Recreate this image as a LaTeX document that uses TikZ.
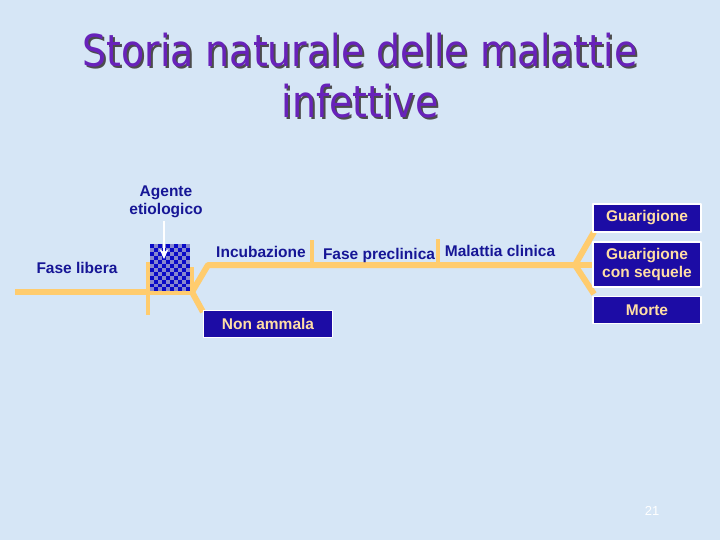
\documentclass[tikz,border=0pt]{standalone}
\usepackage{fontspec}
\setmainfont{Liberation Sans}
\newfontfamily\titlefont[FakeStretch=0.86]{DejaVu Sans}
\usetikzlibrary{positioning,arrows.meta}
\definecolor{bgblue}{RGB}{214,230,246}
\definecolor{lineor}{RGB}{255,204,110}
\definecolor{lblblue}{RGB}{22,22,150}
\definecolor{boxblue}{RGB}{28,12,165}
\definecolor{boxtext}{RGB}{255,222,165}
\definecolor{titlepurple}{RGB}{104,34,186}
\definecolor{checkdark}{RGB}{10,10,200}
\definecolor{checklight}{RGB}{135,135,205}
% title text with its dark shadow
\newcommand\shadowed[1]{\makebox[0pt][l]{\hspace{2pt}\raisebox{-2pt}{\color{black!70}#1}}{\color{titlepurple}#1}}
\begin{document}
\begin{tikzpicture}[x=1pt,y=-1pt, line join=round,
    track/.style={draw=lineor, line width=6pt},
    tick/.style={draw=lineor, line width=3.5pt},
    lbl/.style={text=lblblue, font=\bfseries\fontsize{15.5}{18}\selectfont, inner sep=0pt, align=center},
    outcome/.style={draw=white, line width=1.5pt, fill=boxblue, text=boxtext, font=\bfseries\fontsize{15.5}{18}\selectfont, minimum width=108pt, inner sep=2pt, align=center}]
  \fill[bgblue] (0,0) rectangle (720,540);
  \useasboundingbox (0,0) rectangle (720,540);

  % title
  \node[font=\titlefont\fontsize{44}{51}\selectfont, align=center] (title) at (360,77) {\shadowed{Storia naturale delle malattie}\\\shadowed{infettive}};

  % timeline points
  \coordinate (start) at (15,292);
  \coordinate (fork1) at (192,292);
  \coordinate (up1) at (208,265);
  \coordinate (fork2) at (575,265);
  \coordinate (dn1) at (203,312);

  \draw[track] (start) -- (fork1);
  \draw[track] (fork1) -- (up1) -- (fork2);
  \draw[track] (fork1) -- (dn1);
  \draw[track] (fork2) -- (594,232);
  \draw[track] (fork2) -- (594,265);
  \draw[track] (fork2) -- (594,294);

  % ticks
  \draw[tick] (148,262) -- (148,315);
  \draw[tick] (192,267) -- (192,293);
  \draw[tick] (312,240) -- (312,267);
  \draw[tick] (438,239) -- (438,263);

  % agente eziologico (checkered box)
  \foreach \i in {0,...,9}
    \foreach \j in {0,...,11} {
      \pgfmathparse{int(mod(\i+\j,2))}
      \ifnum\pgfmathresult=0
        \fill[checkdark] (150+4*\i,244+3.95*\j) rectangle ++(4,3.95);
      \else
        \fill[checklight] (150+4*\i,244+3.95*\j) rectangle ++(4,3.95);
      \fi
    }
  \coordinate (agent) at (164,259);

  \node[lbl] (agente) at (166,202) {Agente\\etiologico};
  \draw[white, line width=1.4pt, -{Stealth[length=10pt,width=9pt]}] (agente.south) ++(-2,3) -- (agent);

  % labels on the line
  \node[lbl] (libera) at (77,268) {Fase libera};
  \node[lbl] (incub) at (261,252) {Incubazione};
  \node[lbl] (precl) at (379,255) {Fase preclinica};
  \node[lbl] (malattia) at (500,251) {Malattia clinica};

  % outcomes
  \node[outcome, minimum height=27pt] (nonamm) at (268,324) {\makebox[125pt]{Non ammala}};
  \node[outcome, minimum height=28pt] (guar) at (647,218) {Guarigione};
  \node[outcome, minimum height=45pt] (sequele) at (647,264.5) {Guarigione\\con sequele};
  \node[outcome, minimum height=27pt] (morte) at (647,310) {Morte};

  \node[text=white, font=\fontsize{13}{15}\selectfont] (pagenum) at (652,511) {21};
\end{tikzpicture}
\end{document}
